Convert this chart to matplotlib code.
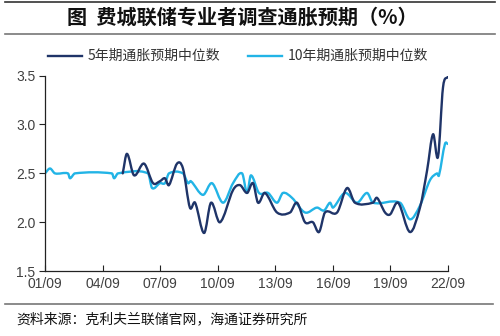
import numpy as np
import matplotlib
matplotlib.use("Agg")
import matplotlib.pyplot as plt
from matplotlib.path import Path
from matplotlib.patches import PathPatch
from matplotlib.lines import Line2D

# 5年期通胀预期中位数 (decimal year, %)
t5 = [2005.80, 2006.02, 2006.39, 2006.91, 2007.38, 2007.74, 2008.00, 2008.21,
      2008.63, 2008.94, 2009.30, 2009.57, 2010.04, 2010.40, 2010.87, 2011.55,
      2011.91, 2012.28, 2012.59, 2012.85, 2013.21, 2013.84, 2014.52, 2014.88,
      2015.30, 2015.71, 2016.03, 2016.34, 2016.97, 2017.49, 2017.90, 2018.84,
      2019.05, 2019.47, 2019.73, 2020.15, 2020.77, 2021.29, 2021.66, 2021.97,
      2022.23, 2022.49, 2022.75]
v5 = [2.50, 2.70, 2.48, 2.60, 2.40, 2.42, 2.45, 2.38,
      2.60, 2.55, 2.15, 2.20, 1.89, 2.20, 2.00, 2.33,
      2.38, 2.30, 2.40, 2.20, 2.30, 2.10, 2.10, 2.20,
      2.00, 2.00, 1.90, 2.10, 2.10, 2.35, 2.20, 2.20,
      2.25, 2.10, 2.08, 2.20, 1.90, 2.15, 2.53, 2.90,
      2.67, 3.38, 3.49]

# 10年期通胀预期中位数
t10 = [2001.75, 2002.01, 2002.27, 2002.95, 2003.05, 2003.31, 2005.24, 2005.35,
       2005.55, 2007.12, 2007.33, 2007.74, 2008.00, 2008.21, 2008.94, 2009.20,
       2009.35, 2009.98, 2010.45, 2011.03, 2011.55, 2012.02, 2012.28, 2012.48,
       2012.90, 2013.37, 2013.84, 2014.15, 2014.62, 2015.30, 2015.92, 2016.29,
       2016.60, 2016.76, 2017.38, 2018.01, 2018.53, 2018.84, 2020.25, 2020.77,
       2021.29, 2021.81, 2022.18, 2022.28, 2022.59, 2022.75]
v10 = [2.50, 2.55, 2.50, 2.50, 2.45, 2.50, 2.50, 2.45,
       2.50, 2.50, 2.35, 2.40, 2.40, 2.50, 2.50, 2.40,
       2.42, 2.28, 2.40, 2.20, 2.40, 2.50, 2.30, 2.48,
       2.30, 2.30, 2.20, 2.30, 2.25, 2.10, 2.15, 2.12,
       2.20, 2.15, 2.30, 2.20, 2.30, 2.20, 2.20, 2.03,
       2.17, 2.43, 2.50, 2.48, 2.80, 2.80]

x_ticks = [2001.75 + 3 * i for i in range(8)]
x_labels = ["01/09", "04/09", "07/09", "10/09", "13/09", "16/09", "19/09", "22/09"]
y_ticks = [1.5, 2.0, 2.5, 3.0, 3.5]

DARK = "#1f3468"
LIGHT = "#22b4e6"
CJK = ["Noto Sans CJK SC", "DejaVu Sans"]


def smooth_path(xs, ys):
    # smoothed line (hermite in x, so no loops on uneven spacing)
    x = np.asarray(xs, float)
    y = np.asarray(ys, float)
    n = len(x)
    m = np.zeros(n)
    m[0] = (y[1] - y[0]) / (x[1] - x[0])
    m[-1] = (y[-1] - y[-2]) / (x[-1] - x[-2])
    for i in range(1, n - 1):
        m[i] = (y[i + 1] - y[i - 1]) / (x[i + 1] - x[i - 1])
    verts = [(x[0], y[0])]
    codes = [Path.MOVETO]
    for i in range(n - 1):
        h = (x[i + 1] - x[i]) / 3
        verts += [(x[i] + h, y[i] + m[i] * h),
                  (x[i + 1] - h, y[i + 1] - m[i + 1] * h),
                  (x[i + 1], y[i + 1])]
        codes += [Path.CURVE4] * 3
    return Path(verts, codes)


fig = plt.figure(figsize=(5, 3.36), dpi=100)
ax = fig.add_axes([0.09, 0.193, 0.806, 0.582])

for t, v, c in [(t10, v10, LIGHT), (t5, v5, DARK)]:
    ax.add_patch(PathPatch(smooth_path(t, v), facecolor="none", edgecolor=c,
                           lw=1.7, capstyle="round", joinstyle="round"))

ax.set_xlim(2001.75, 2022.75)
ax.set_ylim(1.5, 3.5)
ax.set_xticks(x_ticks)
ax.set_xticklabels(x_labels)
ax.set_yticks(y_ticks)
ax.set_yticklabels([f"{y:.1f}" for y in y_ticks])
for s in ["top", "right"]:
    ax.spines[s].set_visible(False)
for s in ["left", "bottom"]:
    ax.spines[s].set_color("#222222")
    ax.spines[s].set_linewidth(0.9)
ax.tick_params(axis="x", direction="in", length=4, pad=4, colors="#222222",
               labelcolor="#404040", labelsize=10)
ax.tick_params(axis="y", direction="out", length=4, pad=3, colors="#222222",
               labelcolor="#404040", labelsize=10)
for lab in ax.get_xticklabels() + ax.get_yticklabels():
    lab.set_family("Liberation Sans")

# title block
fig.add_artist(Line2D([0.01, 0.99], [0.994, 0.994], color="#333333", lw=1.2))
fig.text(0.484, 0.948, "图  费城联储专业者调查通胀预期（%）", ha="center", va="center",
         family=CJK, fontsize=14.5, fontweight="bold", color="#111111")
fig.add_artist(Line2D([0.01, 0.99], [0.9, 0.9], color="#777777", lw=1.2))

# legend
leg_y = 0.832
for x0, col, label in [(0.096, DARK, "5年期通胀预期中位数"),
                       (0.496, LIGHT, "10年期通胀预期中位数")]:
    fig.add_artist(Line2D([x0, x0 + 0.068], [leg_y, leg_y], color=col, lw=1.7))
    fig.text(x0 + 0.08, leg_y + 0.003, label, ha="left", va="center",
             family=CJK, fontsize=10, color="#333333")

# source block
fig.add_artist(Line2D([0.01, 0.985], [0.095, 0.095], color="#777777", lw=1.2))
fig.text(0.032, 0.05, "资料来源：克利夫兰联储官网，海通证券研究所", ha="left", va="center",
         family=CJK, fontsize=10, color="#111111")

fig.savefig("out.png", dpi=100)
